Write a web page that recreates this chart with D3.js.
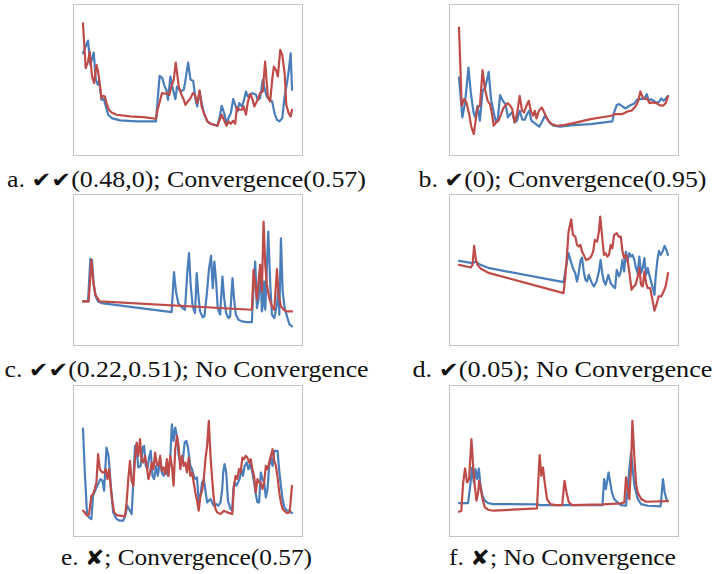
<!DOCTYPE html>
<html>
<head>
<meta charset="utf-8">
<script src="https://cdn.jsdelivr.net/npm/d3@7"></script>
<style>
  body { margin: 0; background: #fff; }
</style>
</head>
<body>
<svg id="chart" width="714" height="574"></svg>
<script>
// values: [time, value] in arbitrary units
var aBlue = [[0,306],[15,344],[22,271],[32,308],[38,226],[44,211],[48,226],[55,166],[62,168],[68,146],[75,121],[85,111],[110,104],[160,101],[217,101],[228,238],[236,231],[243,206],[248,196],[253,166],[260,236],[267,201],[275,168],[280,206],[290,191],[300,196],[305,226],[313,278],[320,226],[328,223],[335,166],[340,146],[347,191],[353,156],[360,126],[370,101],[380,94],[390,91],[400,88],[407,116],[413,148],[420,126],[427,96],[433,111],[440,126],[447,168],[453,151],[460,131],[465,156],[473,146],[478,161],[485,191],[490,176],[497,181],[505,186],[515,181],[520,166],[527,171],[535,226],[540,201],[547,176],[555,166],[563,161],[570,126],[577,106],[585,101],[593,111],[600,176],[607,216],[612,251],[618,306],[622,196]];
var aRed = [[0,396],[8,261],[15,281],[20,311],[27,236],[33,216],[40,271],[45,251],[50,211],[55,171],[60,178],[65,176],[70,156],[77,136],[85,128],[100,121],[140,116],[180,114],[217,109],[222,136],[230,166],[235,186],[243,184],[250,186],[257,181],[263,206],[270,226],[276,278],[280,246],[285,206],[293,181],[300,166],[305,151],[312,161],[320,171],[327,186],[333,181],[340,156],[347,194],[353,146],[360,126],[370,101],[380,94],[390,91],[400,88],[407,106],[413,121],[420,104],[427,88],[433,101],[440,94],[447,103],[453,94],[458,144],[465,136],[473,136],[478,146],[485,121],[490,156],[497,184],[505,166],[510,146],[515,156],[520,166],[527,186],[535,191],[542,281],[550,176],[557,161],[563,226],[568,266],[575,254],[580,236],[587,316],[593,301],[600,246],[605,151],[612,126],[618,116],[622,136]];

var bBlue = [[0,233],[10,113],[18,158],[28,263],[35,188],[43,128],[48,113],[55,148],[62,103],[70,193],[78,203],[88,250],[95,168],[103,128],[110,98],[115,108],[122,180],[130,163],[138,153],[145,113],[152,123],[158,128],[165,98],[172,103],[180,133],[188,106],[195,106],[202,123],[208,133],[215,103],[222,98],[228,93],[238,85],[245,98],[255,118],[262,108],[270,96],[280,88],[300,85],[340,90],[390,93],[455,101],[460,128],[468,150],[475,153],[485,146],[495,140],[502,146],[510,150],[520,155],[530,168],[540,168],[550,170],[557,183],[563,163],[570,168],[577,163],[585,158],[592,158],[600,170],[607,163],[612,168],[620,178]];
var bRed = [[0,383],[8,148],[15,168],[22,158],[30,123],[37,83],[44,63],[50,108],[55,143],[62,148],[70,255],[77,198],[85,163],[92,153],[98,123],[103,88],[110,98],[117,103],[125,123],[130,138],[138,150],[145,156],[152,148],[158,138],[165,98],[172,123],[180,178],[187,133],[193,128],[200,148],[207,163],[213,133],[220,118],[225,133],[230,110],[237,133],[246,143],[255,123],[265,103],[275,93],[290,88],[310,90],[340,96],[390,108],[452,118],[460,123],[485,123],[500,131],[512,133],[525,148],[532,163],[538,191],[545,173],[552,168],[558,170],[565,156],[575,158],[585,156],[595,150],[605,148],[613,156],[620,176]];

var cBlue = [[0,131],[15,131],[22,259],[27,256],[32,181],[38,146],[45,131],[55,126],[265,99],[272,219],[278,161],[285,126],[295,113],[305,106],[312,221],[317,276],[322,181],[328,116],[335,96],[340,216],[345,151],[350,101],[358,83],[363,86],[370,151],[377,231],[383,268],[388,171],[393,251],[398,191],[403,111],[410,91],[417,206],[422,141],[428,96],[435,81],[440,86],[447,201],[452,136],[457,91],[465,76],[475,71],[490,69],[505,69],[510,176],[515,251],[520,111],[525,136],[530,241],[535,101],[538,121],[542,191],[545,106],[550,236],[554,341],[560,181],[565,91],[572,81],[580,121],[585,181],[587,91],[592,321],[597,161],[603,111],[610,86],[617,63],[625,56]];
var cRed = [[0,131],[17,131],[25,256],[30,196],[37,151],[50,131],[505,106],[510,226],[515,181],[520,136],[525,191],[530,241],[535,161],[540,371],[545,241],[550,181],[557,141],[565,116],[572,106],[580,228],[585,151],[592,116],[600,106],[610,101],[625,101]];

var dBlue = [[0,253],[40,246],[50,251],[60,243],[90,231],[310,189],[318,236],[325,276],[332,251],[338,231],[345,216],[350,191],[355,216],[360,251],[365,263],[370,221],[375,196],[380,191],[385,211],[392,191],[400,176],[408,191],[415,221],[420,256],[425,216],[430,191],[435,181],[443,211],[450,186],[457,176],[463,171],[468,226],[475,206],[480,221],[485,256],[490,221],[495,281],[500,251],[505,276],[510,266],[515,271],[520,256],[525,231],[530,216],[535,266],[540,216],[545,231],[550,261],[555,211],[560,231],[567,201],[575,171],[580,151],[583,201],[588,251],[593,283],[598,271],[604,281],[610,298],[615,286],[620,271]];
var dRed = [[0,241],[35,233],[40,241],[45,298],[50,256],[55,241],[65,229],[90,216],[310,156],[315,201],[320,266],[325,341],[333,378],[338,331],[345,326],[350,301],[355,296],[360,301],[365,281],[370,271],[377,256],[385,259],[392,266],[398,281],[403,316],[410,311],[415,341],[419,386],[425,321],[430,271],[435,276],[440,266],[445,271],[450,301],[455,291],[460,331],[468,336],[473,326],[480,326],[485,281],[490,261],[495,271],[500,256],[505,221],[512,166],[518,176],[524,181],[530,206],[535,231],[540,181],[545,176],[550,221],[555,186],[560,171],[567,171],[573,141],[580,103],[587,126],[592,146],[600,146],[607,161],[613,176],[620,216]];

var eBlue = [[0,323],[5,201],[12,66],[18,56],[25,51],[30,121],[38,141],[45,156],[52,171],[58,166],[63,136],[70,266],[76,241],[80,191],[85,126],[90,71],[100,51],[110,46],[120,46],[127,66],[132,91],[137,81],[145,66],[150,161],[155,271],[160,256],[165,206],[172,211],[178,266],[182,271],[187,211],[192,201],[197,236],[202,256],[207,181],[212,171],[218,211],[223,181],[230,226],[235,191],[240,181],[247,201],[253,181],[260,231],[265,336],[270,286],[275,326],[280,301],[285,241],[290,226],[297,221],[303,281],[308,286],[313,266],[320,211],[325,201],[330,181],[335,171],[340,176],[345,101],[350,121],[355,161],[360,171],[365,136],[370,101],[375,106],[380,111],[385,101],[390,91],[397,96],[403,91],[410,101],[415,141],[418,191],[422,216],[427,191],[432,106],[440,81],[445,76],[448,141],[452,161],[457,151],[462,161],[467,171],[472,201],[477,181],[482,211],[488,221],[493,201],[498,216],[505,191],[510,161],[515,126],[520,101],[525,101],[530,191],[535,171],[540,161],[545,116],[550,141],[555,211],[560,236],[565,211],[570,256],[580,256],[585,196],[590,151],[595,111],[600,86],[608,76],[616,76],[623,69]];
var eRed = [[0,76],[5,71],[12,61],[18,66],[25,121],[30,126],[35,141],[40,161],[45,246],[50,201],[57,191],[63,191],[68,201],[73,171],[78,201],[82,151],[88,101],[93,71],[100,63],[125,59],[130,101],[135,171],[140,226],[145,166],[150,151],[155,231],[160,281],[165,241],[170,291],[175,226],[180,221],[185,241],[190,211],[195,171],[200,191],[205,221],[210,201],[215,251],[220,216],[225,211],[230,241],[235,196],[240,206],[245,186],[250,231],[255,181],[260,241],[265,211],[270,151],[275,261],[280,301],[285,271],[290,201],[295,241],[300,211],[305,221],[310,191],[315,236],[320,181],[325,191],[330,161],[335,131],[340,106],[345,76],[350,121],[355,136],[360,171],[365,231],[370,271],[375,346],[380,241],[385,171],[390,111],[395,81],[400,71],[410,66],[420,76],[430,71],[445,66],[450,151],[455,181],[460,171],[465,201],[470,191],[475,236],[480,231],[485,241],[490,236],[495,221],[500,231],[505,201],[510,181],[515,131],[520,171],[525,161],[530,161],[535,141],[540,161],[545,211],[550,201],[555,221],[560,241],[565,261],[570,226],[575,211],[580,176],[585,131],[590,101],[595,81],[600,76],[608,69],[616,71],[623,151]];

var fBlue = [[0,99],[27,99],[34,156],[39,206],[44,161],[49,201],[54,171],[59,203],[64,151],[70,121],[77,106],[87,99],[102,96],[232,95],[242,93],[427,93],[432,171],[437,141],[445,191],[450,161],[455,131],[462,111],[472,101],[482,93],[497,91],[507,201],[512,251],[517,201],[522,151],[532,111],[542,96],[562,91],[600,89],[607,171],[612,131],[619,106],[622,106]];
var fRed = [[0,73],[7,76],[12,156],[18,203],[24,161],[30,171],[37,291],[42,211],[47,151],[52,106],[57,131],[60,166],[64,146],[70,111],[77,86],[87,79],[102,76],[232,83],[235,146],[240,243],[245,181],[250,206],[255,161],[262,111],[272,96],[287,93],[307,93],[314,166],[320,131],[327,101],[337,93],[427,95],[482,98],[492,101],[497,176],[502,141],[507,111],[512,211],[516,346],[522,236],[527,156],[532,131],[542,111],[557,103],[622,105]];

var panelIds = ["a", "b", "c", "d", "e", "f"];
var marks = ["\u2714\u2714", "\u2714", "\u2714\u2714", "\u2714", "\u2718", "\u2718"];
var notes = ["(0.48,0); Convergence(0.57)", "(0); Convergence(0.95)",
             "(0.22,0.51); No Convergence", "(0.05); No Convergence",
             "; Convergence(0.57)", "; No Convergence"];
var series = [[aBlue, aRed], [bBlue, bRed], [cBlue, cRed],
              [dBlue, dRed], [eBlue, eRed], [fBlue, fRed]];

var svg = d3.select("#chart"),
    colLeft = [73, 449],
    rowTop = [4, 194, 385],
    capBase = [187, 377, 565],
    capWidth = [359, 288, 364, 300, 251, 227],   // caption widths in the layout
    boxW = 229,
    boxH = 151,
    pad = 10,
    vMax = 454,
    colors = ["#4a7ebb", "#be4b48"];

panelIds.forEach(function (id, i) {
  var left = colLeft[i % 2],
      top = rowTop[Math.floor(i / 2)],
      tMax = d3.max(series[i], function (s) { return d3.max(s, function (d) { return d[0]; }); });

  var x = d3.scaleLinear().domain([0, tMax]).range([left + pad, left + boxW - pad]),
      y = d3.scaleLinear().domain([0, vMax]).range([top + boxH, top]);

  var line = d3.line()
    .x(function (d) { return x(d[0]); })
    .y(function (d) { return y(d[1]); });

  var g = svg.append("g").attr("class", "panel-" + id);

  g.append("rect")
    .attr("x", left + 0.5)
    .attr("y", top + 0.5)
    .attr("width", boxW)
    .attr("height", boxH)
    .attr("fill", "#fff")
    .attr("stroke", "#c4c4c4")
    .attr("stroke-width", 1);

  series[i].forEach(function (s, k) {
    g.append("path")
      .datum(s)
      .attr("d", line)
      .attr("fill", "none")
      .attr("stroke", colors[k])
      .attr("stroke-width", 2.2)
      .attr("stroke-linejoin", "round")
      .attr("stroke-linecap", "round");
  });

  var cap = g.append("text")
    .attr("x", left + boxW / 2 - 1)
    .attr("y", capBase[Math.floor(i / 2)])
    .attr("text-anchor", "middle")
    .attr("font-family", "'Liberation Serif', serif")
    .attr("font-size", 23)
    .attr("fill", "#111")
    .attr("textLength", capWidth[i])
    .attr("lengthAdjust", "spacingAndGlyphs");
  cap.append("tspan").text(id + ". ");
  cap.append("tspan")
    .attr("font-family", "'DejaVu Sans', sans-serif")
    .attr("font-size", 21)
    .text(marks[i]);
  cap.append("tspan").text(notes[i]);
});
</script>
</body>
</html>
